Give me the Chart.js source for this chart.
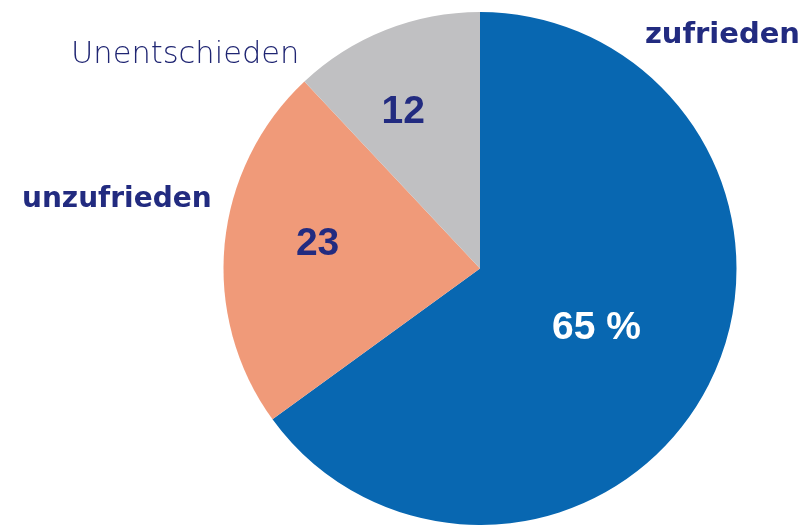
<!DOCTYPE html>
<html lang="de">
<head>
<meta charset="utf-8">
<title>Zufriedenheit</title>
<script src="https://cdn.jsdelivr.net/npm/chart.js@4/dist/chart.umd.min.js"></script>
<style>
  html, body { margin: 0; padding: 0; background: #fff; overflow: hidden; }
  #wrap { position: relative; width: 812px; height: 525px; }
</style>
</head>
<body>
<div id="wrap"><canvas id="pieChart"></canvas></div>
<script>
// ─────────────────────────────────────────────
// Data
// ─────────────────────────────────────────────
const categories = ["zufrieden", "unzufrieden", "Unentschieden"];
const values     = [65, 23, 12];
const valueTexts = ["65 %", "23", "12"];

const SLICE_COLORS = ["#0867b1", "#f09a79", "#c0c0c2"];
const NAVY = "#222b80";

// ─────────────────────────────────────────────
// Plugin: value labels inside slices
// ─────────────────────────────────────────────
const sliceLabels = {
  id: "sliceLabels",
  afterDatasetsDraw(chart, args, opts) {
    const { ctx } = chart;
    const arcs = chart.getDatasetMeta(0).data;
    ctx.save();
    ctx.textAlign = "center";
    ctx.textBaseline = "middle";
    ctx.font = opts.font;
    arcs.forEach((arc, i) => {
      const p = arc.getProps(["x", "y", "startAngle", "endAngle", "outerRadius"], true);
      const mid = (p.startAngle + p.endAngle) / 2 + (opts.nudge[i] || 0) * Math.PI / 180;
      const r = p.outerRadius * opts.frac[i];
      ctx.fillStyle = opts.colors[i];
      ctx.fillText(valueTexts[i], p.x + Math.cos(mid) * r, p.y + Math.sin(mid) * r);
    });
    ctx.restore();
  }
};

// ─────────────────────────────────────────────
// Plugin: category names around the pie
// ─────────────────────────────────────────────
const categoryLabels = {
  id: "categoryLabels",
  afterDraw(chart, args, opts) {
    const { ctx } = chart;
    ctx.save();
    ctx.textBaseline = "alphabetic";
    opts.items.forEach((it, i) => {
      ctx.font = it.font;
      ctx.fillStyle = it.color;
      ctx.textAlign = it.align;
      ctx.fillText(categories[i], it.x, it.y);
    });
    ctx.restore();
  }
};

// ─────────────────────────────────────────────
// Chart
// ─────────────────────────────────────────────
new Chart(document.getElementById("pieChart"), {
  type: "pie",
  data: {
    labels: categories,
    datasets: [{
      data: values,
      backgroundColor: SLICE_COLORS,
      borderWidth: 0,
      hoverOffset: 0,
    }]
  },
  options: {
    responsive: true,
    maintainAspectRatio: false,
    animation: false,
    layout: { padding: { left: 148, right: 0, top: 12, bottom: 0 } },
    plugins: {
      legend: { display: false },
      tooltip: { enabled: false },
      sliceLabels: {
        font: "bold 39px 'Liberation Sans', Arial, sans-serif",
        colors: ["#ffffff", NAVY, NAVY],
        frac: [0.51, 0.64, 0.68],
        nudge: [0, 3, -4.5],
      },
      categoryLabels: {
        items: [
          { x: 800, y: 43,  align: "right", color: NAVY,      font: "bold 29px 'DejaVu Sans', sans-serif" },
          { x: 22,  y: 207, align: "left",  color: NAVY,      font: "bold 28px 'DejaVu Sans', sans-serif" },
          { x: 71,  y: 63,  align: "left",  color: "#1f2572", font: "200 30.5px 'DejaVu Sans', sans-serif" },
        ]
      }
    }
  },
  plugins: [sliceLabels, categoryLabels]
});
</script>
</body>
</html>
